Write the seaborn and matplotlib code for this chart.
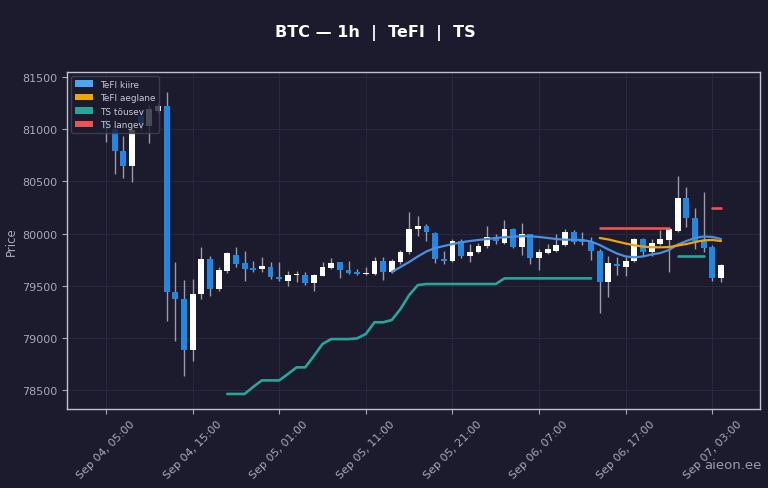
import matplotlib
matplotlib.use("Agg")
import matplotlib.pyplot as plt
import matplotlib.dates as mdates
from matplotlib.patches import Patch
import numpy as np
import pandas as pd
import seaborn as sns

# ---------------- data ----------------
start_time = "2025-09-04 05:00"
n_candles = 72

opens = [81060, 81002, 80791, 80647, 81130, 81033, 81179, 81222, 79439, 79372,
         78886, 79420, 79756, 79468, 79640, 79797, 79714, 79667, 79660, 79682,
         79586, 79547, 79605, 79602, 79523, 79595, 79670, 79724, 79650, 79630,
         79612, 79612, 79733, 79628, 79724, 79820, 80043, 80075, 80002, 79756,
         79739, 79931, 79787, 79826, 79877, 79964, 79909, 80043, 79868, 79995,
         79762, 79813, 79836, 79890, 80011, 79935, 79922, 79835, 79538, 79711,
         79680, 79740, 79947, 79826, 79899, 79940, 80027, 80337, 80146, 79931,
         79868, 79570]
highs = [81100, 81050, 80935, 81040, 81180, 81230, 81250, 81356, 79727, 79554,
         79564, 79871, 79780, 79676, 79826, 79871, 79832, 79739, 79775, 79727,
         79727, 79643, 79643, 79630, 79612, 79727, 79765, 79730, 79739, 79660,
         79676, 79772, 79778, 79760, 79840, 80203, 80171, 80090, 80010, 79832,
         79947, 79947, 79899, 79909, 80069, 79995, 80132, 80050, 80101, 80000,
         79851, 79899, 79995, 80040, 80030, 80017, 79964, 79851, 79780, 79772,
         79772, 79960, 79960, 79947, 80030, 80050, 80548, 80443, 80241, 80401,
         79890, 79710]
lows = [80880, 80570, 80532, 80494, 80990, 80870, 81160, 79164, 78970, 78634,
        78778, 79372, 79404, 79450, 79620, 79679, 79545, 79628, 79628, 79560,
        79545, 79500, 79532, 79505, 79446, 79590, 79660, 79573, 79612, 79600,
        79605, 79605, 79554, 79620, 79710, 79805, 79979, 79931, 79714, 79708,
        79730, 79762, 79730, 79810, 79860, 79899, 79900, 79860, 79794, 79708,
        79653, 79800, 79820, 79880, 79900, 79890, 79749, 79238, 79388, 79602,
        79595, 79730, 79787, 79780, 79890, 79628, 80010, 80062, 79851, 79820,
        79545, 79532]
closes = [81000, 80791, 80647, 80990, 81040, 81193, 81222, 79439, 79372, 78886,
          79420, 79756, 79468, 79650, 79813, 79708, 79660, 79650, 79686, 79580,
          79561, 79605, 79612, 79523, 79605, 79676, 79714, 79650, 79624, 79612,
          79618, 79733, 79628, 79733, 79820, 80043, 80075, 80011, 79756, 79740,
          79931, 79781, 79826, 79877, 79964, 79931, 80043, 79868, 79995, 79762,
          79826, 79851, 79890, 80017, 79916, 79915, 79835, 79538, 79714, 79686,
          79740, 79947, 79820, 79909, 79947, 80043, 80337, 80146, 79931, 79858,
          79570, 79701]

# TeFI kiire: hours 33..71
tefi_fast_start = 33
tefi_fast = [79631, 79679, 79727, 79780, 79828, 79861, 79880, 79899, 79916, 79928,
             79938, 79947, 79957, 79964, 79970, 79974, 79974, 79967, 79957, 79947,
             79941, 79941, 79938, 79923, 79890, 79847, 79808, 79780, 79772, 79780,
             79799, 79813, 79842, 79894, 79928, 79957, 79971, 79967, 79947]
# TeFI aeglane: hours 57..71
tefi_slow_start = 57
tefi_slow = [79957, 79943, 79923, 79904, 79887, 79875, 79868, 79868, 79870, 79885,
             79899, 79918, 79935, 79938, 79928]
# TS tousev segments
ts_up_1_start = 14
ts_up_1 = [78462, 78462, 78462, 78530, 78592, 78592, 78592, 78653, 78717, 78717,
           78826, 78941, 78988, 78988, 78988, 78995, 79037, 79149, 79149, 79171,
           79276, 79410, 79506, 79516, 79516, 79516, 79516, 79516, 79516, 79516,
           79516, 79516, 79570, 79570, 79570, 79570, 79570, 79570, 79570, 79570,
           79570, 79570, 79570]
ts_up_2_start = 66
ts_up_2 = [79787, 79787, 79787, 79787]
# TS langev segments
ts_dn_1_start = 57
ts_dn_1 = [80050, 80050, 80050, 80050, 80050, 80050, 80050, 80050, 80050]
ts_dn_2_start = 70
ts_dn_2 = [80241, 80241]

title_text = "BTC \u2014 1h  |  TeFI  |  TS"
legend_labels = ["TeFI kiire", "TeFI aeglane", "TS t\u00f5usev", "TS langev"]
watermark = "aieon.ee"

# ---------------- style ----------------
BG = "#1b1b2d"
GRID = "#2a2a42"
TXT = "#a8a8b8"
C_UP = "#ffffff"
C_DN = "#1e88e5"
C_WICK = "#9a9aaa"
C_FAST = "#4a90e2"
C_SLOW = "#f0a500"
C_TSUP = "#26a69a"
C_TSDN = "#ef5350"

sns.set_theme(style="dark", rc={
    "axes.facecolor": BG,
    "figure.facecolor": BG,
    "axes.edgecolor": "#c0c0d0",
    "grid.color": GRID,
    "text.color": TXT,
    "axes.labelcolor": TXT,
    "xtick.color": TXT,
    "ytick.color": TXT,
})
plt.rcParams["font.family"] = ["DejaVu Sans"]

times = pd.date_range(start_time, periods=n_candles, freq="h")
df = pd.DataFrame({"time": times, "open": opens, "high": highs,
                   "low": lows, "close": closes})

fig = plt.figure(figsize=(7.68, 4.89), dpi=100)
ax = fig.add_axes([0.0872, 0.1616, 0.9024, 0.6897])
ax.set_facecolor(BG)

xnum = mdates.date2num(df["time"])
w = 0.68 / 24.0
up = df["close"] >= df["open"]
bottoms = np.minimum(df["open"], df["close"])
heights = np.maximum(np.abs(df["close"] - df["open"]), 8)
colors = np.where(up, C_UP, C_DN)

ax.vlines(xnum, df["low"], df["high"], color=C_WICK, linewidth=1.0, zorder=2)
ax.bar(xnum, heights, bottom=bottoms, width=w, color=colors, linewidth=0, zorder=3)


def series(start, vals, seg):
    t = pd.date_range(times[start], periods=len(vals), freq="h")
    return pd.DataFrame({"time": t, "val": vals, "seg": seg})


fast_df = series(tefi_fast_start, tefi_fast, 0)
slow_df = series(tefi_slow_start, tefi_slow, 0)
up_df = pd.concat([series(ts_up_1_start, ts_up_1, 0),
                   series(ts_up_2_start, ts_up_2, 1)])
dn_df = pd.concat([series(ts_dn_1_start, ts_dn_1, 0),
                   series(ts_dn_2_start, ts_dn_2, 1)])

sns.lineplot(data=fast_df, x="time", y="val", ax=ax, color=C_FAST,
             linewidth=1.6, zorder=4, legend=False)
sns.lineplot(data=slow_df, x="time", y="val", ax=ax, color=C_SLOW,
             linewidth=1.6, zorder=4, legend=False)
sns.lineplot(data=up_df, x="time", y="val", units="seg", estimator=None, ax=ax,
             color=C_TSUP, linewidth=1.9, zorder=4, legend=False)
sns.lineplot(data=dn_df, x="time", y="val", units="seg", estimator=None, ax=ax,
             color=C_TSDN, linewidth=1.9, zorder=4, legend=False)

# axes limits / ticks
t0 = times[0]
ax.set_xlim(mdates.date2num(t0 - pd.Timedelta(hours=4.5)),
            mdates.date2num(t0 + pd.Timedelta(hours=75.5)))
ax.set_ylim(78318, 81551)
ax.set_yticks([78500, 79000, 79500, 80000, 80500, 81000, 81500])
xt = pd.date_range(start_time, periods=8, freq="10h")
ax.set_xticks(mdates.date2num(xt))
ax.xaxis.set_major_formatter(mdates.DateFormatter("%b %d, %H:%M"))
ax.tick_params(axis="both", labelsize=8, colors=TXT, length=3.5, width=0.8,
               bottom=True, left=True)
plt.setp(ax.get_xticklabels(), rotation=45, ha="center")
ax.grid(True, color=GRID, linewidth=0.6)
ax.set_axisbelow(True)
for s in ax.spines.values():
    s.set_color("#c0c0d0")
    s.set_linewidth(1.0)
    s.set_visible(True)

ax.set_xlabel("")
ax.set_ylabel("Price", fontsize=8.5, color=TXT, labelpad=3)

handles = [Patch(facecolor=c, edgecolor="none") for c in
           ["#4da3f5", C_SLOW, C_TSUP, C_TSDN]]
leg = ax.legend(handles, legend_labels, loc="upper left", fontsize=6.4,
                frameon=True, facecolor=BG, edgecolor="#44445a",
                framealpha=0.8, labelcolor="#c8c8d4")
leg.set_zorder(10)

fig.text(375 / 768, 1 - 33 / 489, title_text, ha="center", va="center",
         fontsize=11.5, fontweight="bold", color="#ffffff")
fig.text(0.992, 0.049, watermark, ha="right", va="center", fontsize=9.5,
         color="#9a9aaa")

fig.savefig("out.png", dpi=100, facecolor=BG)
